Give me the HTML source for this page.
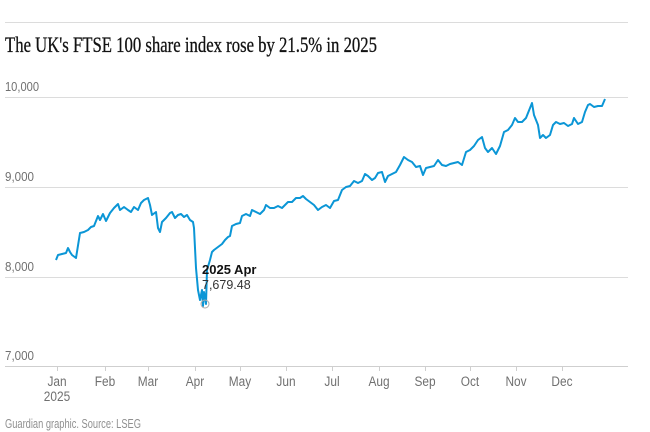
<!DOCTYPE html>
<html><head><style>
body{margin:0;background:#fff;width:650px;height:432px;overflow:hidden}
svg{display:block}
</style></head><body>
<svg width="650" height="432" xmlns="http://www.w3.org/2000/svg">
<line x1="5" y1="22.5" x2="628" y2="22.5" stroke="#dcdcdc"/>
<text x="5" y="52" font-family="Liberation Serif, serif" font-size="22" fill="#121212" textLength="372" lengthAdjust="spacingAndGlyphs" stroke="#121212" stroke-width="0.3">The UK's FTSE 100 share index rose by 21.5% in 2025</text>
<g font-family="Liberation Sans, sans-serif" font-size="13" fill="#707070">
<text x="5" y="91" textLength="34" lengthAdjust="spacingAndGlyphs">10,000</text>
<text x="5" y="181" textLength="29" lengthAdjust="spacingAndGlyphs">9,000</text>
<text x="5" y="271" textLength="29" lengthAdjust="spacingAndGlyphs">8,000</text>
<text x="5" y="360" textLength="29" lengthAdjust="spacingAndGlyphs">7,000</text>
</g>
<g stroke="#dcdcdc">
<line x1="5" y1="97.5" x2="628" y2="97.5"/>
<line x1="5" y1="187.5" x2="628" y2="187.5"/>
<line x1="5" y1="277.5" x2="628" y2="277.5"/>
<line x1="5" y1="366.5" x2="628" y2="366.5" stroke="#cfcfcf"/>
<g stroke="#cfcfcf">
<line x1="57.5" y1="366" x2="57.5" y2="371"/><line x1="105.5" y1="366" x2="105.5" y2="371"/><line x1="148.5" y1="366" x2="148.5" y2="371"/><line x1="195.5" y1="366" x2="195.5" y2="371"/><line x1="240.5" y1="366" x2="240.5" y2="371"/><line x1="286.5" y1="366" x2="286.5" y2="371"/><line x1="332.5" y1="366" x2="332.5" y2="371"/><line x1="379.5" y1="366" x2="379.5" y2="371"/><line x1="425.5" y1="366" x2="425.5" y2="371"/><line x1="470.5" y1="366" x2="470.5" y2="371"/><line x1="516.5" y1="366" x2="516.5" y2="371"/><line x1="562.5" y1="366" x2="562.5" y2="371"/>
</g></g>
<g font-family="Liberation Sans, sans-serif" font-size="13.5" fill="#707070" text-anchor="middle" transform="scale(0.88,1)">
<text x="64.8" y="386">Jan</text><text x="64.8" y="401">2025</text>
<text x="119.3" y="386">Feb</text><text x="168.2" y="386">Mar</text><text x="221.6" y="386">Apr</text><text x="272.7" y="386">May</text><text x="325" y="386">Jun</text><text x="377.3" y="386">Jul</text><text x="430.7" y="386">Aug</text><text x="483" y="386">Sep</text><text x="534.1" y="386">Oct</text><text x="586.4" y="386">Nov</text><text x="638.6" y="386">Dec</text>
</g>
<text x="5" y="428" font-family="Liberation Sans, sans-serif" font-size="12.5" fill="#909090" textLength="136" lengthAdjust="spacingAndGlyphs">Guardian graphic. Source: LSEG</text>
<polyline fill="none" stroke="#0b96d6" stroke-width="2" stroke-linejoin="round" points="56,260 58,255 62,254 66,253 68,248 70,252 72,255 76,258 80,233 84,232 88,230 91,227 94,226 98,216 100,220 103,214 106,221 110,213 114,208 118,204 120,210 124,207 128,210 131,212 134,207 138,210 141,203 144,200 148,198 150,205 152,215 156,212 158,228 160,232 162,222 166,218 170,213 172,212 175,218 178,215 181,214 184,217 187,215 190,220 193,222 194,228 196,268 198,290 200,300 202,290 203,306 204,292 206,304 207,270 210,260 212,252 214,250 218,247 222,244 225,240 228,237 230,236 232,226 236,224 240,223 242,216 246,214 250,216 252,210 256,212 260,214 264,210 266,205 270,208 274,208 278,206 282,208 285,205 288,202 292,202 296,198 300,198 303,196 306,199 310,202 314,205 318,210 322,207 326,205 330,208 334,201 338,200 342,190 346,187 350,186 354,181 358,183 362,181 365,174 368,176 372,180 375,178 378,173 382,172 385,182 388,176 392,174 396,172 400,165 404,157 408,160 412,162 416,167 420,166 423,175 426,168 430,167 434,166 438,160 442,165 446,166 450,164 454,163 458,162 462,165 466,152 470,150 474,146 478,140 482,137 485,148 488,152 492,148 496,154 500,146 504,132 508,130 512,125 515,118 518,122 522,122 526,118 530,108 532,103 534,115 538,125 540,138 543,135 546,138 550,135 553,125 556,122 560,124 564,123 568,126 572,124 574,118 578,124 582,122 585,112 588,105 590,104 594,107 598,106 602,106 605,99"/>
<circle cx="205" cy="304" r="4" fill="none" stroke="#aaa"/>
<text x="202" y="274" font-family="Liberation Sans, sans-serif" font-size="13" font-weight="bold" fill="#121212">2025 Apr</text>
<text x="202" y="289" font-family="Liberation Sans, sans-serif" font-size="12.5" fill="#333">7,679.48</text>
</svg>
</body></html>
